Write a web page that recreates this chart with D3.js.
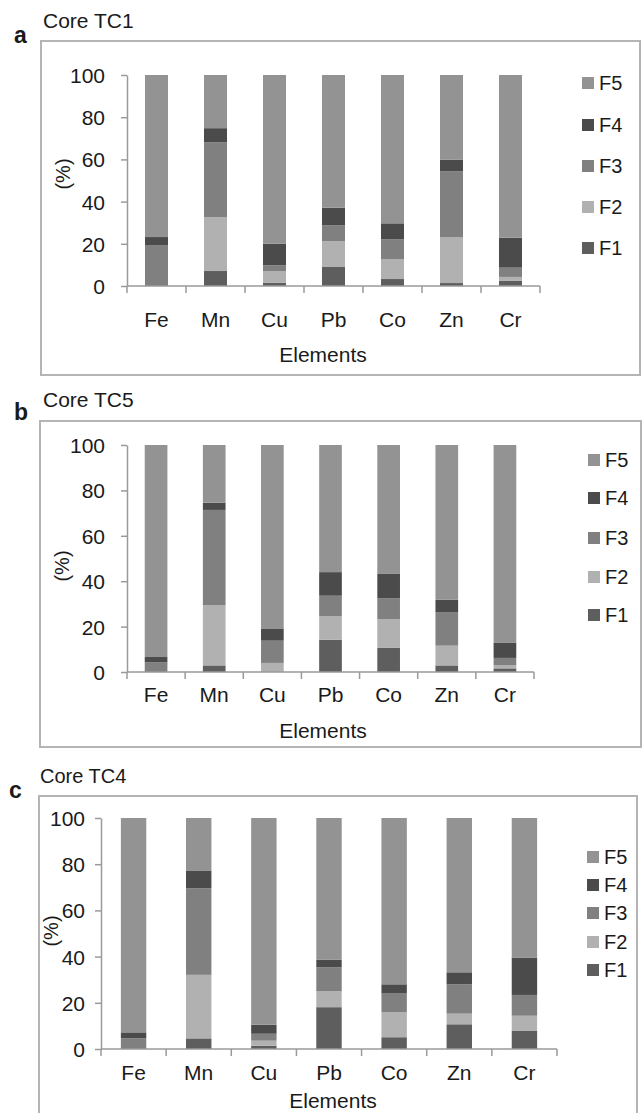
<!DOCTYPE html>
<html><head><meta charset="utf-8">
<script src="https://cdn.jsdelivr.net/npm/d3@7"></script>
<style>body{margin:0;background:#fff}svg{display:block}text{font-family:"Liberation Sans",Arial,sans-serif;fill:#1a1a1a}</style>
</head><body>
<script>
const elements = ["Fe","Mn","Cu","Pb","Co","Zn","Cr"];
const fractions = ["F1","F2","F3","F4","F5"];
const yTicks = [0,20,40,60,80,100];
const legendOrder = ["F5","F4","F3","F2","F1"];
const coreTitles = ["Core TC1","Core TC5","Core TC4"];
const panelLetters = ["a","b","c"];

// Core TC1
const tc1F1 = [0, 7.1, 1.6, 9.0, 3.3, 1.4, 2.4];
const tc1F2 = [0, 25.5, 5.5, 12.3, 9.5, 21.8, 1.9];
const tc1F3 = [19.4, 35.5, 2.7, 7.4, 9.3, 31.1, 4.4];
const tc1F4 = [3.8, 6.7, 10.2, 8.4, 7.6, 5.5, 14.2];
const tc1F5 = [76.8, 25.2, 80.0, 62.9, 70.3, 40.2, 77.1];
// Core TC5
const tc5F1 = [0, 2.9, 0, 14.2, 10.6, 2.9, 1.6];
const tc5F2 = [0, 26.6, 4.0, 10.3, 12.7, 8.7, 1.3];
const tc5F3 = [4.2, 41.9, 9.8, 9.1, 9.1, 14.8, 3.3];
const tc5F4 = [2.4, 3.2, 5.4, 10.4, 10.8, 5.4, 6.8];
const tc5F5 = [93.4, 25.4, 80.8, 56.0, 56.8, 68.2, 87.0];
// Core TC4
const tc4F1 = [0, 4.6, 1.4, 18.1, 5.1, 10.7, 7.8];
const tc4F2 = [0, 27.5, 2.2, 7.0, 10.8, 4.6, 6.6];
const tc4F3 = [4.6, 37.5, 3.0, 10.3, 8.1, 12.7, 9.0];
const tc4F4 = [2.6, 7.7, 3.9, 3.2, 4.0, 5.2, 16.2];
const tc4F5 = [92.8, 22.7, 89.5, 61.4, 72.0, 66.8, 60.4];

const coreSeries = [
  [tc1F1, tc1F2, tc1F3, tc1F4, tc1F5],
  [tc5F1, tc5F2, tc5F3, tc5F4, tc5F5],
  [tc4F1, tc4F2, tc4F3, tc4F4, tc4F5]
];

const colors = {F1:"#5e5e5e", F2:"#b1b1b1", F3:"#808080", F4:"#4b4b4b", F5:"#939393"};

// layout per panel
const layouts = [
  {letter:[14,43], title:[43,28], titleSize:21, box:[41,41,640,375], x0:127, x1:540, yTop:75, yBot:286,
   tickLabGap:22, catBase:327, elemBase:362, elemX:323, pct:[63,174], legX:582, legRows:[83,125,166,207,248]},
  {letter:[14,420], title:[43,407], titleSize:21, box:[40,421,641,747], x0:127, x1:534, yTop:445, yBot:672,
   tickLabGap:22, catBase:702, elemBase:738, elemX:323, pct:[62,566], legX:588, legRows:[460,498,538,577,615]},
  {letter:[9,798], title:[40,783], titleSize:20, box:[39,796,637,1125], x0:101, x1:557, yTop:818, yBot:1049,
   tickLabGap:16, catBase:1080, elemBase:1108, elemX:333, pct:[51,931], legX:587, legRows:[857,885,913,942,970]}
];

const svg = d3.select("body").append("svg").attr("width",643).attr("height",1113);

layouts.forEach((L, pi) => {
  const g = svg.append("g");
  const series = coreSeries[pi];
  g.append("rect").attr("x",L.box[0]).attr("y",L.box[1])
    .attr("width",L.box[2]-L.box[0]).attr("height",L.box[3]-L.box[1])
    .attr("fill","none").attr("stroke","#b4b4b4").attr("stroke-width",2);
  g.append("text").attr("x",L.letter[0]).attr("y",L.letter[1]).text(panelLetters[pi])
    .style("font-size","23px").style("font-weight","bold");
  g.append("text").attr("x",L.title[0]).attr("y",L.title[1]).text(coreTitles[pi])
    .style("font-size",L.titleSize+"px");

  const x = d3.scaleBand().domain(elements).range([L.x0,L.x1]).paddingInner(0.61).paddingOuter(0.305);
  const y = d3.scaleLinear().domain([0,100]).range([L.yBot,L.yTop]);

  const rows = elements.map((e,i) => {
    const r = {element:e};
    fractions.forEach((f,k) => r[f] = series[k][i]);
    return r;
  });
  const stack = d3.stack().keys(fractions)(rows);
  g.selectAll("g.layer").data(stack).join("g").attr("fill", d => colors[d.key])
    .selectAll("rect").data(d => d).join("rect")
    .attr("x", d => x(d.data.element)).attr("width", x.bandwidth())
    .attr("y", d => y(d[1])).attr("height", d => Math.max(0, y(d[0]) - y(d[1])));

  const yAxis = g.append("g").attr("transform",`translate(${L.x0},0)`)
    .call(d3.axisLeft(y).tickValues(yTicks).tickSize(6).tickPadding(L.tickLabGap-6).tickSizeOuter(0));
  yAxis.select(".domain").attr("stroke","#9a9a9a").attr("stroke-width",1.5);
  yAxis.selectAll(".tick line").attr("stroke","#9a9a9a").attr("stroke-width",1.5);
  yAxis.selectAll(".tick text").style("font-size","21px").attr("fill","#1a1a1a").attr("dy","0.36em");

  const step = x.step();
  g.append("line").attr("x1",L.x0).attr("x2",L.x1).attr("y1",L.yBot).attr("y2",L.yBot)
    .attr("stroke","#9a9a9a").attr("stroke-width",1.5);
  g.selectAll("line.xt").data(d3.range(elements.length+1)).join("line")
    .attr("x1", i => L.x0 + i*step).attr("x2", i => L.x0 + i*step)
    .attr("y1",L.yBot).attr("y2",L.yBot+7).attr("stroke","#9a9a9a").attr("stroke-width",1.5);
  g.selectAll("text.cat").data(elements).join("text")
    .attr("x", d => x(d) + x.bandwidth()/2).attr("y", L.catBase)
    .attr("text-anchor","middle").style("font-size","21px").text(d => d);

  g.append("text").attr("x",L.elemX).attr("y",L.elemBase).attr("text-anchor","middle")
    .style("font-size","21px").text("Elements");
  g.append("text").attr("transform",`translate(${L.pct[0]},${L.pct[1]}) rotate(-90)`)
    .attr("text-anchor","middle").attr("dy","0.35em").style("font-size","20px").text("(%)");

  legendOrder.forEach((f,k) => {
    const cy = L.legRows[k];
    g.append("rect").attr("x",L.legX).attr("y",cy-6).attr("width",12).attr("height",12).attr("fill",colors[f]);
    g.append("text").attr("x",L.legX+17).attr("y",cy).attr("dy","0.36em").style("font-size","20px").text(f);
  });
});
</script>
</body></html>
